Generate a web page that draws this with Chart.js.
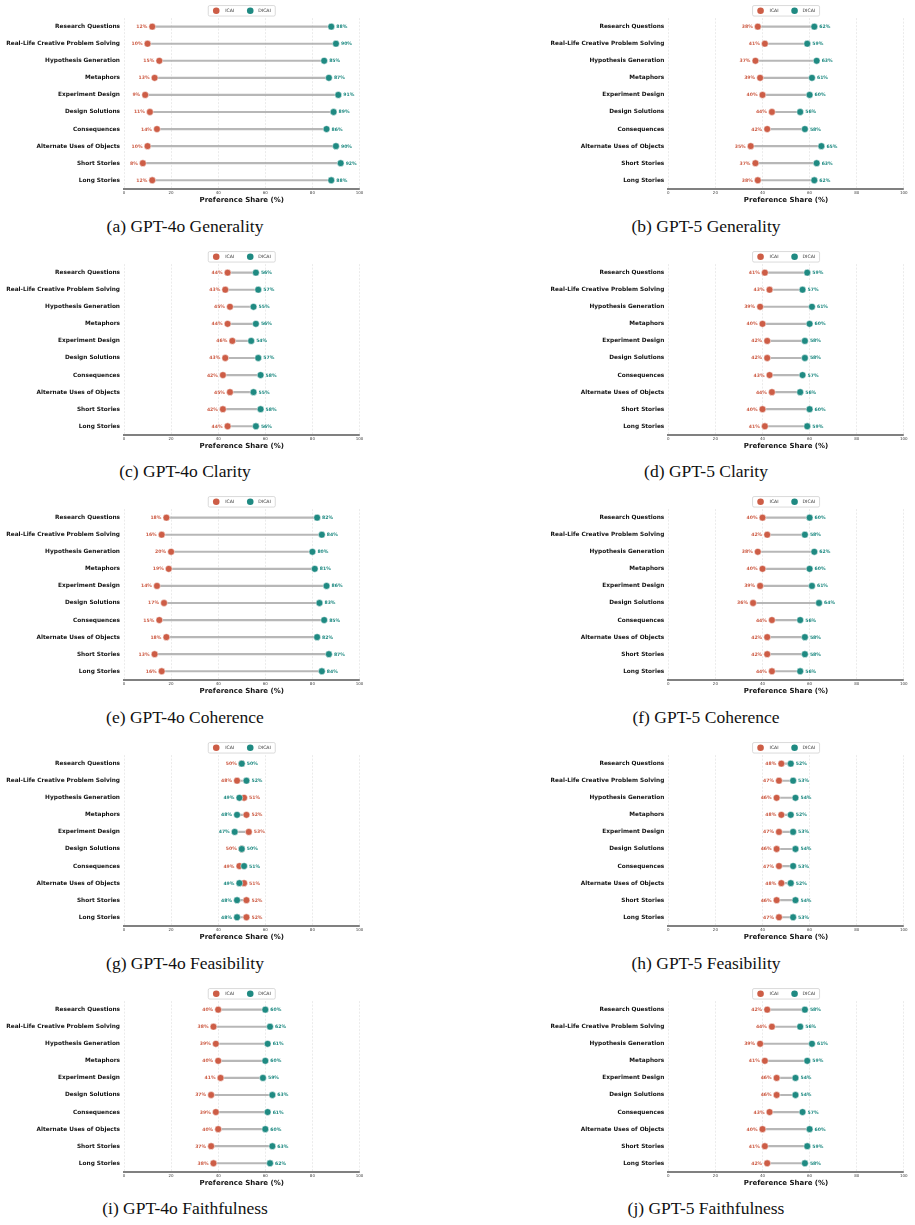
<!DOCTYPE html>
<html><head><meta charset="utf-8">
<script src="https://cdn.jsdelivr.net/npm/chart.js@4.4.1/dist/chart.umd.min.js"></script>
<style>
html,body{margin:0;padding:0;background:#fff;}
#wrap{position:relative;width:915px;height:1225px;overflow:hidden;background:#fff;}
canvas{position:absolute;}
.cap{position:absolute;font-family:"Liberation Serif","Times New Roman",serif;font-size:17.5px;color:#111;white-space:nowrap;transform:translate(-50%,-50%);line-height:1;}
</style></head><body><div id="wrap"></div>
<script>
const categories = ['Research Questions','Real-Life Creative Problem Solving','Hypothesis Generation','Metaphors','Experiment Design','Design Solutions','Consequences','Alternate Uses of Objects','Short Stories','Long Stories'];
const seriesNames = ['ICAI','DICAI'];
const xTickValues = [0,20,40,60,80,100];
const axisTitle = 'Preference Share (%)';

const gpt4oGeneralityICAI  = [12,10,15,13,9,11,14,10,8,12];
const gpt4oGeneralityDICAI = [88,90,85,87,91,89,86,90,92,88];
const gpt5GeneralityICAI   = [38,41,37,39,40,44,42,35,37,38];
const gpt5GeneralityDICAI  = [62,59,63,61,60,56,58,65,63,62];
const gpt4oClarityICAI     = [44,43,45,44,46,43,42,45,42,44];
const gpt4oClarityDICAI    = [56,57,55,56,54,57,58,55,58,56];
const gpt5ClarityICAI      = [41,43,39,40,42,42,43,44,40,41];
const gpt5ClarityDICAI     = [59,57,61,60,58,58,57,56,60,59];
const gpt4oCoherenceICAI   = [18,16,20,19,14,17,15,18,13,16];
const gpt4oCoherenceDICAI  = [82,84,80,81,86,83,85,82,87,84];
const gpt5CoherenceICAI    = [40,42,38,40,39,36,44,42,42,44];
const gpt5CoherenceDICAI   = [60,58,62,60,61,64,56,58,58,56];
const gpt4oFeasibilityICAI = [50,48,51,52,53,50,49,51,52,52];
const gpt4oFeasibilityDICAI= [50,52,49,48,47,50,51,49,48,48];
const gpt5FeasibilityICAI  = [48,47,46,48,47,46,47,48,46,47];
const gpt5FeasibilityDICAI = [52,53,54,52,53,54,53,52,54,53];
const gpt4oFaithfulnessICAI= [40,38,39,40,41,37,39,40,37,38];
const gpt4oFaithfulnessDICAI=[60,62,61,60,59,63,61,60,63,62];
const gpt5FaithfulnessICAI = [42,44,39,41,46,46,43,40,41,42];
const gpt5FaithfulnessDICAI= [58,56,61,59,54,54,57,60,59,58];

const captions = ['(a) GPT-4o Generality','(b) GPT-5 Generality','(c) GPT-4o Clarity','(d) GPT-5 Clarity','(e) GPT-4o Coherence','(f) GPT-5 Coherence','(g) GPT-4o Feasibility','(h) GPT-5 Feasibility','(i) GPT-4o Faithfulness','(j) GPT-5 Faithfulness'];
const icaiSeries = [gpt4oGeneralityICAI,gpt5GeneralityICAI,gpt4oClarityICAI,gpt5ClarityICAI,gpt4oCoherenceICAI,gpt5CoherenceICAI,gpt4oFeasibilityICAI,gpt5FeasibilityICAI,gpt4oFaithfulnessICAI,gpt5FaithfulnessICAI];
const dicaiSeries = [gpt4oGeneralityDICAI,gpt5GeneralityDICAI,gpt4oClarityDICAI,gpt5ClarityDICAI,gpt4oCoherenceDICAI,gpt5CoherenceDICAI,gpt4oFeasibilityDICAI,gpt5FeasibilityDICAI,gpt4oFaithfulnessDICAI,gpt5FaithfulnessDICAI];

const RED = '#cd5d46', TEAL = '#1f8a82', CONN = 'rgba(165,165,165,0.8)';
const ROW_STEP = 245.65, CANVAS_H = 205;
const cols = [
  {left:0,   width:365, yw:124, capX:185},
  {left:455, width:455, yw:213.3, capX:706}
];

const valueLabels = {
  id:'valueLabels',
  afterDatasetsDraw(chart){
    const ctx = chart.ctx, ds = chart.data.datasets;
    const mI = chart.getDatasetMeta(1), mD = chart.getDatasetMeta(2);
    ctx.save();
    ctx.font = 'bold 4.6px "DejaVu Sans"';
    ctx.textBaseline = 'middle';
    mI.data.forEach((pI, i) => {
      const pD = mD.data[i];
      const a = ds[1].data[i], b = ds[2].data[i];
      const icaiLeft = a <= b;
      const L = icaiLeft ? {p:pI, v:a, c:RED} : {p:pD, v:b, c:TEAL};
      const R = icaiLeft ? {p:pD, v:b, c:TEAL} : {p:pI, v:a, c:RED};
      ctx.fillStyle = L.c; ctx.textAlign = 'right';
      ctx.fillText(L.v + '%', L.p.x - 5, L.p.y + 0.3);
      ctx.fillStyle = R.c; ctx.textAlign = 'left';
      ctx.fillText(R.v + '%', R.p.x + 5, R.p.y + 0.3);
    });
    ctx.restore();
  }
};

const topLegend = {
  id:'topLegend',
  afterDraw(chart){
    const ctx = chart.ctx, ca = chart.chartArea;
    const cx = (ca.left + ca.right) / 2, cy = 10.8;
    ctx.save();
    const w = 67, h = 10.5, x0 = cx - w/2, y0 = cy - h/2;
    ctx.beginPath();
    if (ctx.roundRect) ctx.roundRect(x0, y0, w, h, 1.5); else ctx.rect(x0, y0, w, h);
    ctx.fillStyle = 'rgba(255,255,255,0.9)'; ctx.fill();
    ctx.strokeStyle = '#d0d0d0'; ctx.lineWidth = 0.8; ctx.stroke();
    const items = [
      {name: chart.data.datasets[1].label, color: RED, dx: -25.5, tx: -16.5},
      {name: chart.data.datasets[2].label, color: TEAL, dx: 8.5, tx: 16.5}
    ];
    ctx.font = '4.6px "DejaVu Sans"'; ctx.textBaseline = 'middle'; ctx.textAlign = 'left';
    items.forEach(it => {
      ctx.beginPath(); ctx.arc(cx + it.dx, cy, 3.3, 0, Math.PI*2);
      ctx.fillStyle = it.color; ctx.fill();
      ctx.fillStyle = '#333'; ctx.fillText(it.name, cx + it.tx, cy + 0.2);
    });
    ctx.restore();
  }
};

const wrap = document.getElementById('wrap');
captions.forEach((cap, k) => {
  const r = Math.floor(k / 2), c = k % 2, col = cols[c];
  const top = ROW_STEP * r;
  const cv = document.createElement('canvas');
  cv.width = col.width; cv.height = CANVAS_H;
  cv.style.left = col.left + 'px'; cv.style.top = top + 'px';
  cv.style.width = col.width + 'px'; cv.style.height = CANVAS_H + 'px';
  wrap.appendChild(cv);

  const icai = icaiSeries[k], dicai = dicaiSeries[k];
  new Chart(cv.getContext('2d'), {
    type: 'bar',
    data: {
      labels: categories,
      datasets: [
        {type:'bar', label:'conn', indexAxis:'y', data: icai.map((v,i)=>[Math.min(v,dicai[i]), Math.max(v,dicai[i])]),
         backgroundColor: CONN, borderWidth:0, barThickness:1.5, order:2},
        {type:'line', label: seriesNames[0], indexAxis:'y', data: icai, showLine:false,
         pointRadius:3.4, pointBackgroundColor:RED, pointBorderColor:'#fff', pointBorderWidth:0.5, order:1},
        {type:'line', label: seriesNames[1], indexAxis:'y', data: dicai, showLine:false,
         pointRadius:3.4, pointBackgroundColor:TEAL, pointBorderColor:'#fff', pointBorderWidth:0.5, order:0}
      ]
    },
    options: {
      indexAxis:'y', responsive:false, animation:false, devicePixelRatio:1,
      layout:{padding:{top:18.1, right: col.width - col.yw - 235.5, bottom:0, left:0}},
      plugins:{legend:{display:false}, tooltip:{enabled:false}},
      scales:{
        x:{type:'linear', min:0, max:100, position:'bottom',
           afterBuildTicks(s){ s.ticks = xTickValues.map(v=>({value:v})); },
           afterFit(s){ s.height = CANVAS_H - 188.8; s.paddingLeft = 0; s.paddingRight = 0; },
           ticks:{font:{family:'DejaVu Sans', size:4}, color:'#444', padding:1.5},
           grid:{color:'#dedede', lineWidth:0.6, drawTicks:false},
           border:{display:true, color:'#808080', width:2, dash:[2,1.5]},
           title:{display:true, text:axisTitle, font:{family:'DejaVu Sans', size:7, weight:'bold'}, color:'#111', padding:{top:0,bottom:0.8}}
        },
        y:{type:'category', position:'left', offset:true,
           afterFit(s){ s.width = col.yw; s.paddingTop = 0; s.paddingBottom = 0; },
           ticks:{font:{family:'DejaVu Sans', size:5.8, weight:'bold'}, color:'#111', padding:4},
           grid:{display:false, drawTicks:false},
           border:{display:false}
        }
      }
    },
    plugins:[valueLabels, topLegend]
  });

  const d = document.createElement('div');
  d.className = 'cap'; d.textContent = cap;
  d.style.left = col.capX + 'px'; d.style.top = (226.7 + top) + 'px';
  wrap.appendChild(d);
});
</script>
</body></html>
